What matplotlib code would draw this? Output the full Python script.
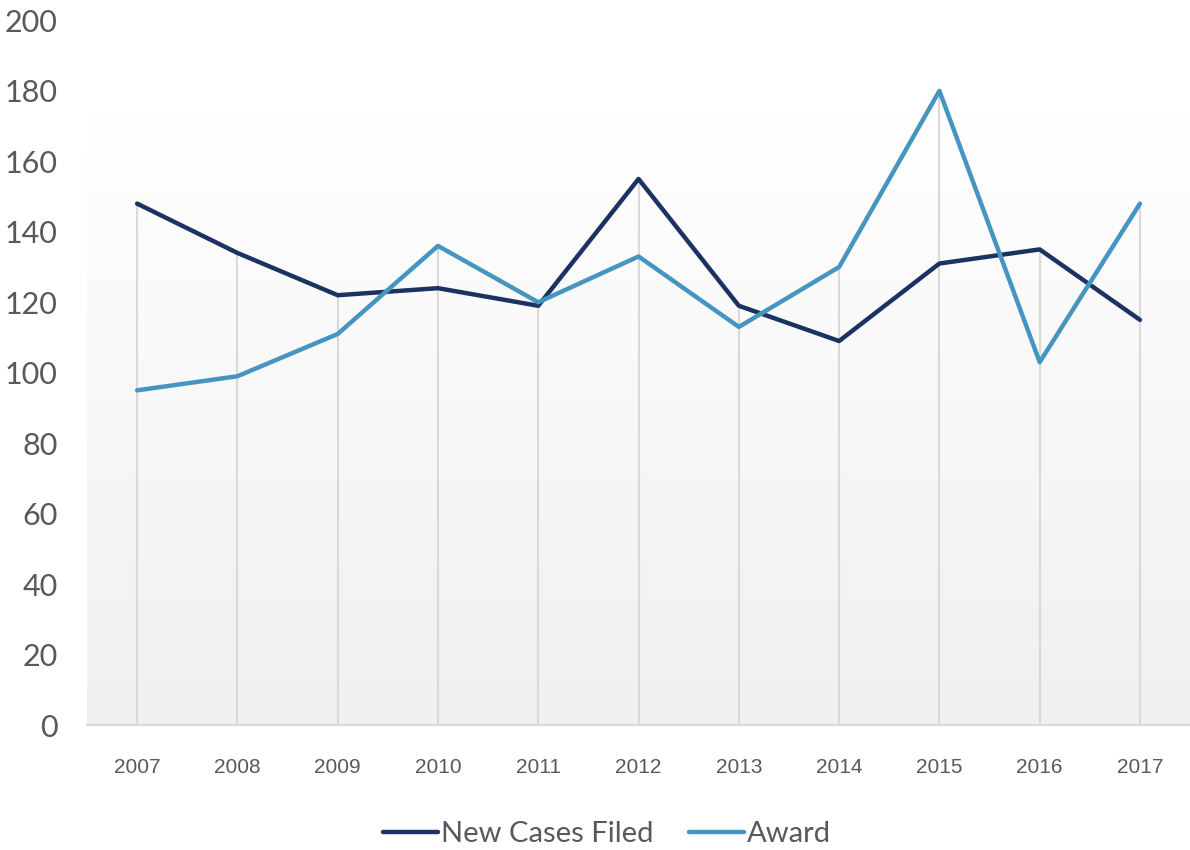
import matplotlib.pyplot as plt
import numpy as np

# Chart data
years = ["2007", "2008", "2009", "2010", "2011", "2012", "2013", "2014", "2015", "2016", "2017"]
new_cases = [148, 134, 122, 124, 119, 155, 119, 109, 131, 135, 115]
award = [95, 99, 111, 136, 120, 133, 113, 130, 180, 103, 148]

navy = "#1c3263"
blue = "#4595c0"
grid_col = "#d9d9d9"

fig = plt.figure(figsize=(11.9, 8.5), dpi=100)
ax = fig.add_axes([0.0731, 0.147, 0.927, 0.829])

x = np.arange(len(years))
ax.set_xlim(-0.5, len(years) - 0.5)
ax.set_ylim(0, 200)

# soft gradient backdrop, white at top to light grey at the base
grad = np.linspace(0, 1, 256).reshape(-1, 1)
ax.imshow(grad, cmap=plt.matplotlib.colors.LinearSegmentedColormap.from_list(
    "bg", ["#f0f0f0", "#ffffff"]), extent=(-0.5, len(years) - 0.5, 0, 174),
    aspect="auto", origin="lower", zorder=0)

# drop lines up to the higher of the two series
tops = np.maximum(new_cases, award)
ax.vlines(x, 0, tops, color=grid_col, lw=1.5, zorder=1)

ax.plot(x, new_cases, color=navy, lw=3.2, label="New Cases Filed", zorder=3,
        solid_capstyle="round", solid_joinstyle="round")
ax.plot(x, award, color=blue, lw=3.2, label="Award", zorder=3,
        solid_capstyle="round", solid_joinstyle="round")

for s in ["top", "right", "left"]:
    ax.spines[s].set_visible(False)
ax.spines["bottom"].set_color(grid_col)
ax.spines["bottom"].set_linewidth(1.5)

ax.set_xticks(x)
ax.set_xticklabels(years, fontsize=15, color="#595959", family="Liberation Sans")
ax.set_yticks(range(0, 201, 20))
ax.set_yticklabels([str(v) for v in range(0, 201, 20)], fontsize=22, color="#595959",
                   family="Lato")
ax.tick_params(axis="x", length=0, pad=24)
ax.tick_params(axis="y", length=0, pad=21)

leg = fig.legend(loc="center", bbox_to_anchor=(0.51, 0.019), ncol=2, frameon=False,
                 prop={"family": "Lato", "size": 21}, handlelength=1.9,
                 handletextpad=0.1, columnspacing=1.2)
for t in leg.get_texts():
    t.set_color("#595959")

fig.savefig("out.png", dpi=100)
